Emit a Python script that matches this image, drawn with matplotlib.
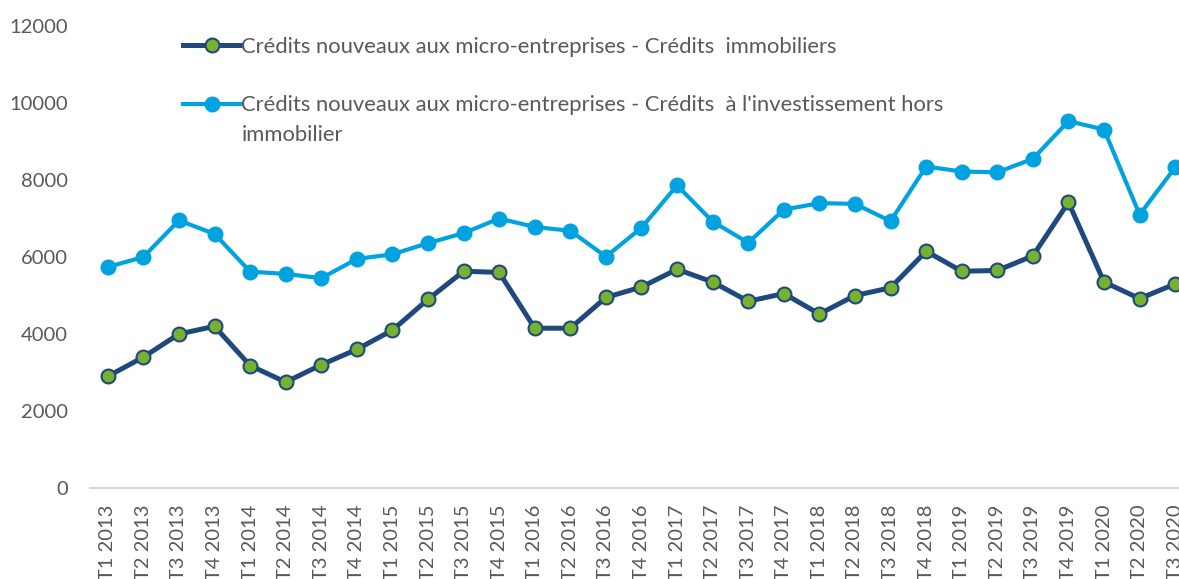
import numpy as np
import matplotlib.pyplot as plt

plt.rcParams['font.family'] = ['Lato', 'DejaVu Sans']

# data
trimestres = ['T1 2013', 'T2 2013', 'T3 2013', 'T4 2013',
              'T1 2014', 'T2 2014', 'T3 2014', 'T4 2014',
              'T1 2015', 'T2 2015', 'T3 2015', 'T4 2015',
              'T1 2016', 'T2 2016', 'T3 2016', 'T4 2016',
              'T1 2017', 'T2 2017', 'T3 2017', 'T4 2017',
              'T1 2018', 'T2 2018', 'T3 2018', 'T4 2018',
              'T1 2019', 'T2 2019', 'T3 2019', 'T4 2019',
              'T1 2020', 'T2 2020', 'T3 2020']

immobiliers = [2900, 3400, 4000, 4200,
               3180, 2750, 3200, 3600,
               4100, 4900, 5630, 5600,
               4150, 4150, 4950, 5220,
               5680, 5350, 4850, 5050,
               4520, 5000, 5200, 6150,
               5630, 5650, 6030, 7420,
               5350, 4920, 5300]

investissement = [5740, 6000, 6950, 6600,
                  5620, 5560, 5450, 5950,
                  6070, 6360, 6620, 7000,
                  6780, 6680, 6010, 6760,
                  7860, 6920, 6370, 7230,
                  7400, 7380, 6930, 8350,
                  8220, 8200, 8550, 9530,
                  9310, 7100, 8330]

lab1 = "Crédits nouveaux aux micro-entreprises - Crédits  immobiliers"
lab2 = "Crédits nouveaux aux micro-entreprises - Crédits  à l'investissement hors"
lab2_suite = "immobilier"

navy = '#1F497D'
vert = '#77B12F'
bleu = '#00A2E0'
gris = '#595959'

fig = plt.figure(figsize=(11.79, 5.79), dpi=100)
ax = fig.add_axes([90/1179., 91/579., 1103/1179., 462/579.])

x = np.arange(len(trimestres))
ax.plot(x, immobiliers, color=navy, lw=3.6, marker='o', ms=10,
        mfc=vert, mec=navy, mew=1.5, label=lab1, zorder=3)
ax.plot(x, investissement, color=bleu, lw=3.0, marker='o', ms=10.5,
        mfc=bleu, mec=bleu, label=lab2, zorder=3)

ax.set_xlim(-0.5, len(trimestres) - 0.5)
ax.set_ylim(0, 12000)
ax.set_yticks(np.arange(0, 12001, 2000))
ax.set_xticks(x)
ax.set_xticklabels(trimestres, rotation=90, va='top')

for s in ['top', 'right', 'left']:
    ax.spines[s].set_visible(False)
ax.spines['bottom'].set_color('#D9D9D9')
ax.spines['bottom'].set_linewidth(1.5)
ax.tick_params(axis='both', length=0, labelsize=14.5, colors=gris)
ax.tick_params(axis='y', pad=16)
ax.tick_params(axis='x', pad=12)

leg = ax.legend(loc='upper left', bbox_to_anchor=(183/1179., 1 - 37/579.),
                bbox_transform=fig.transFigure, frameon=False,
                fontsize=15.8, handlelength=2.6, handletextpad=0.05,
                borderpad=0, borderaxespad=0, labelspacing=1.75)
for t in leg.get_texts():
    t.set_color(gris)
fig.text(242/1179., 1 - 135/579., lab2_suite, fontsize=15.8, color=gris,
         va='center', ha='left')

fig.savefig('out.png', dpi=100)
